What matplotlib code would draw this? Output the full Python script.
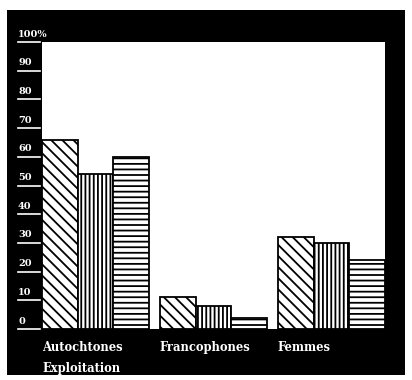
import matplotlib.pyplot as plt
from matplotlib.patches import Rectangle
import numpy as np

categories = ['Autochtones', 'Francophones', 'Femmes']
serie_diag = [66, 11, 32]
serie_vert = [54, 8, 30]
serie_horiz = [60, 4, 24]
yticks = [0, 10, 20, 30, 40, 50, 60, 70, 80, 90, 100]
ytick_labels = ['0', '10', '20', '30', '40', '50', '60', '70', '80', '90', '100%']
xlabel = 'Exploitation'

plt.rcParams['hatch.linewidth'] = 1.3
plt.rcParams['hatch.color'] = 'black'

fig = plt.figure(figsize=(4.12, 3.80), dpi=100)
W, H = 412, 380

# cadre noir
fig.patches.append(Rectangle((7 / W, 1 - 375 / H), (405 - 7) / W, (375 - 10) / H,
                             transform=fig.transFigure, facecolor='black',
                             edgecolor='none', zorder=-1))

ax = fig.add_axes([42 / W, 1 - 329 / H, (385 - 42) / W, (329 - 42) / H])
ax.set_zorder(2)
ax.set_facecolor('white')
for s in ax.spines.values():
    s.set_visible(False)

group_step = 3.3
x0 = np.arange(len(categories)) * group_step
ax.bar(x0, serie_diag, width=1, color='white', edgecolor='black', linewidth=1.3, hatch='\\\\\\')
ax.bar(x0 + 1, serie_vert, width=1, color='white', edgecolor='black', linewidth=1.3, hatch='||||')
ax.bar(x0 + 2, serie_horiz, width=1, color='white', edgecolor='black', linewidth=1.3, hatch='---')

ax.set_xlim(-0.5, x0[-1] + 2.5)
ax.set_ylim(0, 100)
ax.set_xticks([])
ax.set_yticks([])

font = dict(family='DejaVu Serif', weight='bold', color='white', size=8.3)

# graduations à gauche, soulignées
trans = ax.get_yaxis_transform()
for v, lab in zip(yticks, ytick_labels):
    ax.plot([-24 / 343, -2 / 343], [v, v], transform=trans, color='white',
            linewidth=1.2, clip_on=False)
    ax.text(-24 / 343, v + 1.2, lab, transform=trans, ha='left', va='bottom',
            fontsize=7, **{k: font[k] for k in ('family', 'weight', 'color')})

# noms des catégories
for x, c in zip(x0, categories):
    ax.text(x - 0.5, -4.2, c, ha='left', va='top', clip_on=False, **font)
ax.text(x0[0] - 0.5, -11.5, xlabel, ha='left', va='top', clip_on=False, **font)

fig.savefig('out.png', dpi=100, facecolor='white')
